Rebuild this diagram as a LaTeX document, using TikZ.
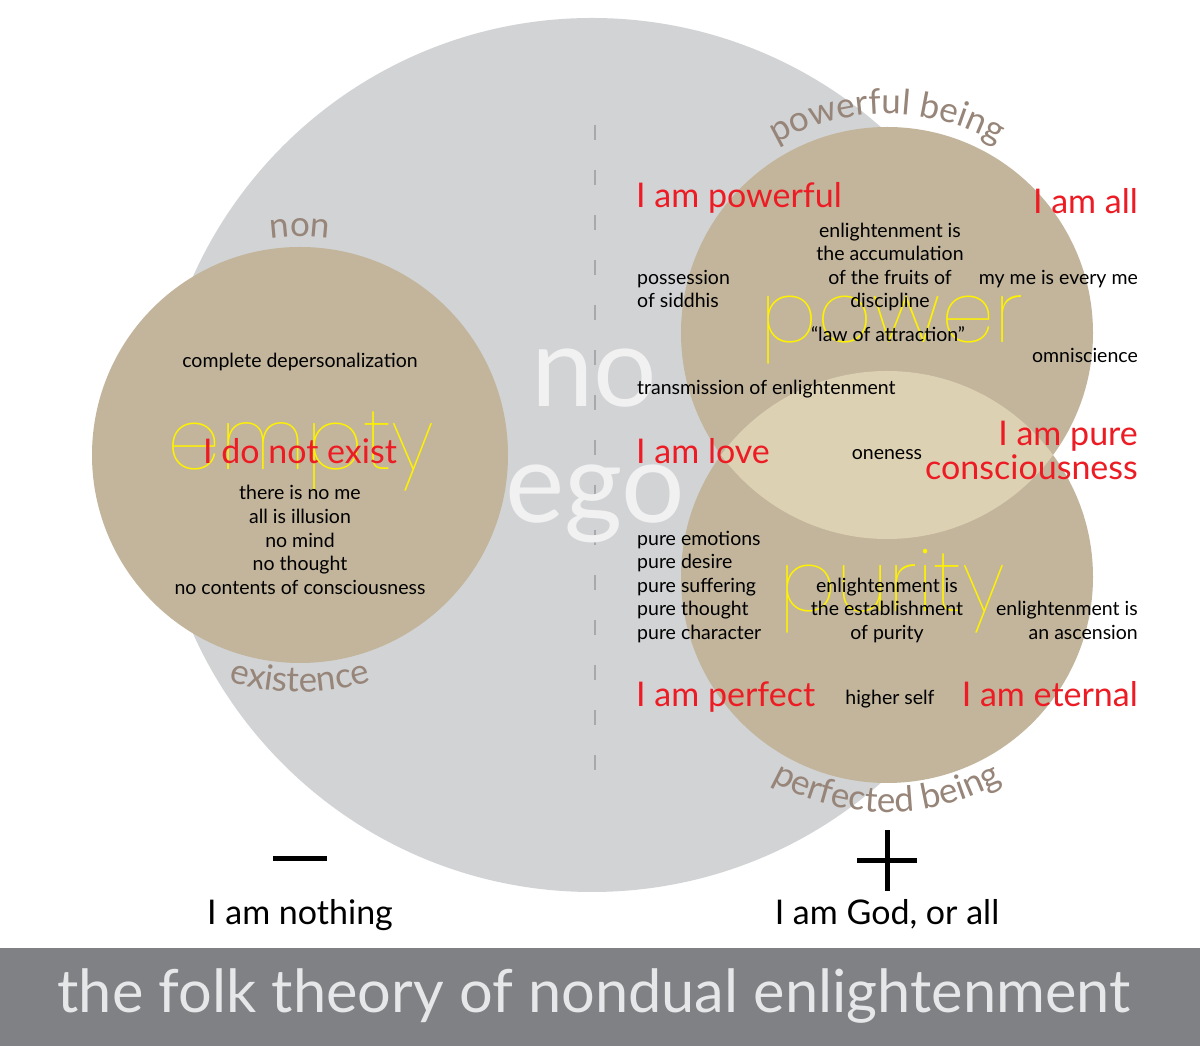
\documentclass[tikz,border=0pt]{standalone}
\usepackage{fontspec}
\setmainfont{Lato}
\IfFontExistsTF{Poppins Thin}{\newfontfamily\thinfont{Poppins Thin}}{%
 \IfFontExistsTF{Lato Hairline}{\newfontfamily\thinfont{Lato Hairline}}{%
  \IfFontExistsTF{Lato Light}{\newfontfamily\thinfont{Lato Light}}{\newfontfamily\thinfont{Lato}}}}
\usetikzlibrary{decorations.text}
\definecolor{biggray}{HTML}{D1D3D4}
\definecolor{tanc}{HTML}{C2B59B}
\definecolor{lighttan}{HTML}{DDD1B3}
\definecolor{tantext}{HTML}{978579}
\definecolor{redtext}{HTML}{ED1C24}
\definecolor{yel}{HTML}{FFF200}
\definecolor{barcol}{HTML}{808184}
\definecolor{titlecol}{HTML}{E6E7E8}
\definecolor{dashcol}{HTML}{A7A9AC}
\definecolor{nogo}{HTML}{F1F1F2}
\tikzset{
 smalltxt/.style={font=\fontsize{19.5}{19.5}\selectfont, text=black, inner sep=0pt, yshift=-5pt},
 redtxt/.style={font=\fontsize{34}{34}\selectfont, text=redtext, inner sep=0pt, yshift=-9pt},
 yeltxt/.style={font=\thinfont\fontsize{85}{85}\selectfont, text=yel, inner sep=0pt, anchor=base},
 bigwhite/.style={font=\fontsize{112}{112}\selectfont, text=nogo, inner sep=0pt, anchor=base},
 bottomtxt/.style={font=\fontsize{34}{34}\selectfont, text=black, inner sep=0pt, anchor=mid, yshift=-9pt},
 arctxt/.style={decorate, decoration={text along path, text align=center,
   text={|\color{tantext}\fontsize{35}{35}\selectfont|#1}}},
}
\begin{document}
\begin{tikzpicture}[x=1pt,y=1pt]
\useasboundingbox (0,0) rectangle (1200,1046);
\fill[white] (0,0) rectangle (1200,1046);
% circles
\fill[biggray] (592,591) circle[radius=437];
\fill[tanc] (300,591) circle[radius=208];
\fill[tanc] (887,713) circle[radius=206];
\fill[tanc] (887,469) circle[radius=206];
\begin{scope}
 \clip (887,713) circle[radius=206];
 \fill[lighttan] (887,469) circle[radius=206];
\end{scope}
% dashed divider
\coordinate (dtop) at (595,1046-125);
\coordinate (dbot) at (595,1046-780);
\draw[dashcol, line width=2pt, dash pattern=on 15pt off 30pt] (dtop) -- (dbot);
% big white
\node[bigwhite] (no) at (594,1046-407) {no};
\node[bigwhite] (ego) at (595,1046-523) {ego};
% curved labels
\path[arctxt={non}] (300,591) ++(115:218) arc[start angle=115, end angle=65, radius=218];
\path[arctxt={existence}] (300,591) ++(230:237) arc[start angle=230, end angle=310, radius=237];
\path[arctxt={powerful being}] (887,713) ++(140:219) arc[start angle=140, end angle=40, radius=219];
\path[arctxt={perfected being}] (887,469) ++(205:235) arc[start angle=205, end angle=335, radius=235];
% yellow words
\node[yeltxt] (empty) at (301,1046-470) {empty};
\node[yeltxt] (power) at (892,1046-343) {power};
\node[yeltxt] (purity) at (892,1046-612) {purity};
% left circle
\node[smalltxt, anchor=mid] (cd) at (300,1046-360) {complete depersonalization};
\node[redtxt, anchor=mid] (dne) at (300,1046-452) {I do not exist};
\node[smalltxt, anchor=mid] (l1) at (300,1046-492) {there is no me};
\node[smalltxt, anchor=mid] (l2) at (300,1046-516) {all is illusion};
\node[smalltxt, anchor=mid] (l3) at (300,1046-540) {no mind};
\node[smalltxt, anchor=mid] (l4) at (300,1046-563) {no thought};
\node[smalltxt, anchor=mid] (l5) at (300,1046-587) {no contents of consciousness};
% power circle
\node[redtxt, anchor=mid west] (pw) at (636,1046-196) {I am powerful};
\node[redtxt, anchor=mid east] (all) at (1138,1046-202) {I am all};
\node[smalltxt, anchor=mid] (a1) at (890,1046-230) {enlightenment is};
\node[smalltxt, anchor=mid] (a2) at (890,1046-253) {the accumulation};
\node[smalltxt, anchor=mid] (a3) at (890,1046-277) {of the fruits of};
\node[smalltxt, anchor=mid] (a4) at (890,1046-300) {discipline};
\node[smalltxt, anchor=mid west] (s1) at (637,1046-277) {possession};
\node[smalltxt, anchor=mid west] (s2) at (637,1046-300) {of siddhis};
\node[smalltxt, anchor=mid east] (me) at (1138,1046-277) {my me is every me};
\node[smalltxt, anchor=mid] (law) at (888,1046-334) {“law of attraction”};
\node[smalltxt, anchor=mid east] (omn) at (1138,1046-355) {omniscience};
\node[smalltxt, anchor=mid west] (tr) at (637,1046-387) {transmission of enlightenment};
% overlap
\node[redtxt, anchor=mid west] (love) at (636,1046-452) {I am love};
\node[smalltxt, anchor=mid] (one) at (887,1046-452) {oneness};
\node[redtxt, anchor=mid east] (pc1) at (1138,1046-434) {I am pure};
\node[redtxt, anchor=mid east] (pc2) at (1138,1046-468) {consciousness};
% purity circle
\node[smalltxt, anchor=mid west] (p1) at (637,1046-538) {pure emotions};
\node[smalltxt, anchor=mid west] (p2) at (637,1046-561) {pure desire};
\node[smalltxt, anchor=mid west] (p3) at (637,1046-585) {pure suffering};
\node[smalltxt, anchor=mid west] (p4) at (637,1046-608) {pure thought};
\node[smalltxt, anchor=mid west] (p5) at (637,1046-632) {pure character};
\node[smalltxt, anchor=mid] (e1) at (887,1046-585) {enlightenment is};
\node[smalltxt, anchor=mid] (e2) at (887,1046-608) {the establishment};
\node[smalltxt, anchor=mid] (e3) at (887,1046-632) {of purity};
\node[smalltxt, anchor=mid east] (asc1) at (1138,1046-608) {enlightenment is};
\node[smalltxt, anchor=mid east] (asc2) at (1138,1046-632) {an ascension};
\node[redtxt, anchor=mid west] (perf) at (636,1046-695) {I am perfect};
\node[smalltxt, anchor=mid] (hs) at (890,1046-697) {higher self};
\node[redtxt, anchor=mid east] (etr) at (1138,1046-695) {I am eternal};
% minus and plus
\fill[black] (273,1046-861) rectangle (327,1046-856);
\fill[black] (857,1046-863) rectangle (917,1046-858);
\fill[black] (884.5,1046-891) rectangle (889.5,1046-830);
\node[bottomtxt] (nothing) at (300,1046-913) {I am nothing};
\node[bottomtxt] (god) at (887,1046-913) {I am God, or all};
% title bar
\fill[barcol] (0,0) rectangle (1200,98);
\node[font=\fontsize{59.5}{59.5}\selectfont, text=titlecol, inner sep=0pt, anchor=mid] (title) at (594,1046-1010) {the folk theory of nondual enlightenment};
\end{tikzpicture}
\end{document}
